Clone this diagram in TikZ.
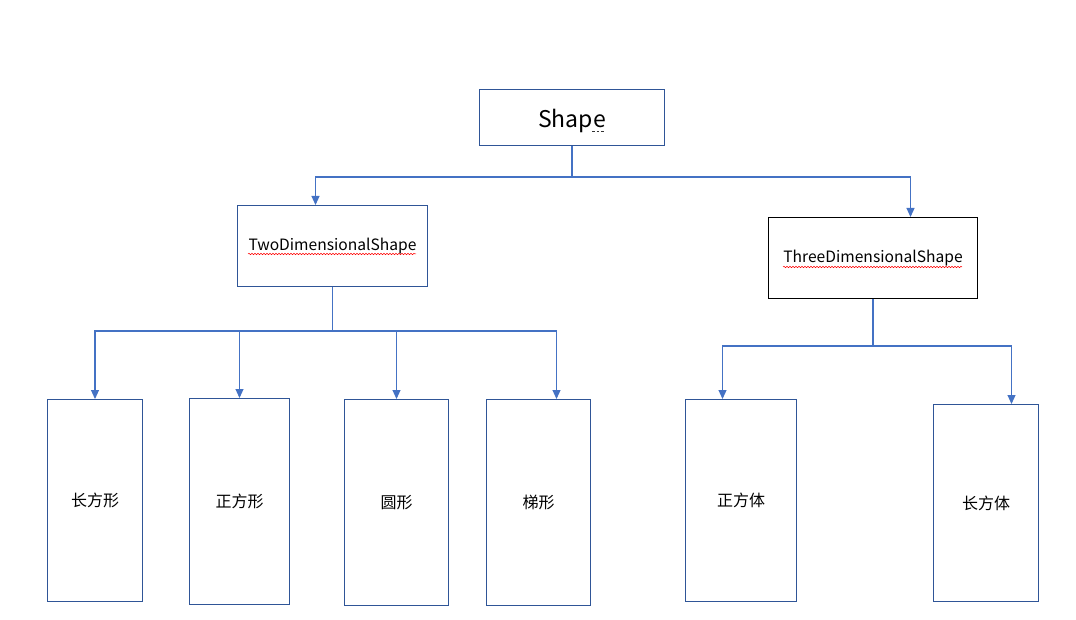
\documentclass[tikz,border=0pt]{standalone}
\usepackage{fontspec}
\setmainfont{Noto Sans CJK SC}
\usetikzlibrary{arrows.meta,decorations.pathmorphing}
\definecolor{boxblue}{HTML}{2F5597}
\definecolor{linkblue}{HTML}{4472C4}
\tikzset{
  box/.style={draw=boxblue,line width=1pt,inner sep=0pt,anchor=north west,font=\fontsize{16}{19}\selectfont},
  conn/.style={draw=linkblue,line width=1.1pt},
  arr/.style={conn,-{Triangle[width=8pt,length=9pt]}},
  spell/.style={draw=red,line width=0.5pt,decorate,decoration={snake,amplitude=0.7pt,segment length=3pt}}
}
\begin{document}
\begin{tikzpicture}[x=1pt,y=-1pt]
\useasboundingbox (0,0) rectangle (1076,620);
% boxes
\node[box,minimum width=185pt,minimum height=56pt,font=\fontsize{23}{26}\selectfont,text depth=0pt] (shape) at (479,89) {\raisebox{-2pt}{Shape}};
\node[box,minimum width=190pt,minimum height=81pt,font=\fontsize{15.6}{18}\selectfont] (two) at (237,205) {\raisebox{-1.5pt}{TwoDimensionalShape}};
\node[box,draw=black,minimum width=209pt,minimum height=81pt,font=\fontsize{15.6}{18}\selectfont] (three) at (768,217) {\raisebox{-1.5pt}{ThreeDimensionalShape}};
\node[box,minimum width=95pt,minimum height=202pt] (b1) at (47,399) {长方形};
\node[box,minimum width=100pt,minimum height=206pt] (b2) at (189,398) {正方形};
\node[box,minimum width=104pt,minimum height=206pt] (b3) at (344,399) {圆形};
\node[box,minimum width=104pt,minimum height=206pt] (b4) at (486,399) {梯形};
\node[box,minimum width=111pt,minimum height=202pt] (b5) at (685,399) {正方体};
\node[box,minimum width=105pt,minimum height=197pt] (b6) at (933,404) {长方体};
% spelling marks
\draw[spell] (248,254) -- (416,254);
\draw[spell] (783,267) -- (962,267);
\draw[black!80,line width=0.7pt,dash pattern=on 2.5pt off 2pt] (592,131) -- (605,131);
% junctions
\coordinate (j1) at (shape.south |- 0,177);
\coordinate (j2) at (two.south |- 0,331);
\coordinate (j3) at (three.south |- 0,346);
% connectors
\draw[conn] (shape.south) -- (j1);
\draw[arr] (j1) -| ([xshift=-17pt]two.north);
\draw[arr] (j1) -| ([xshift=37.5pt]three.north);
\draw[conn] (two.south) -- (j2);
\draw[arr] (j2) -| (b1.north);
\draw[arr] (j2) -| (b2.north);
\draw[arr] (j2) -| (b3.north);
\draw[arr] (j2) -| ([xshift=18pt]b4.north);
\draw[conn] (three.south) -- (j3);
\draw[arr] (j3) -| ([xshift=-18.5pt]b5.north);
\draw[arr] (j3) -| ([xshift=25.5pt]b6.north);
\end{tikzpicture}
\end{document}
